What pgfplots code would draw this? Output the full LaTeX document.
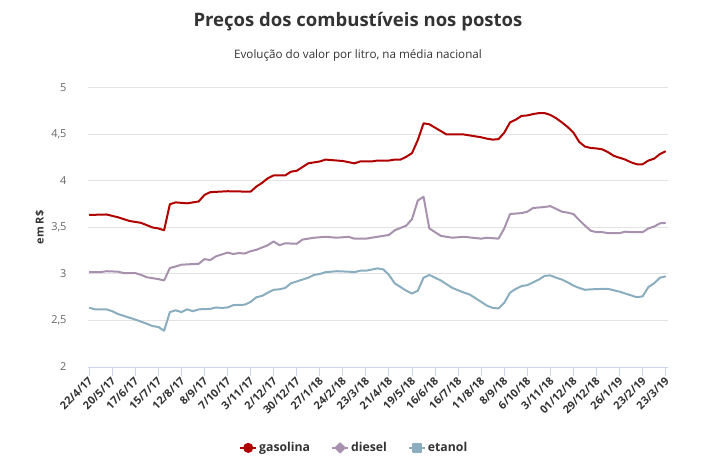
\documentclass[border=0pt]{standalone}
\usepackage{fontspec}
\setmainfont{Open Sans}
\usepackage{pgfplots}
\pgfplotsset{compat=1.18}
\definecolor{gas}{HTML}{B00000}
\definecolor{dsl}{HTML}{A891AF}
\definecolor{eta}{HTML}{8AADBF}
\definecolor{c333}{HTML}{333333}
\definecolor{c666}{HTML}{666666}
\definecolor{gridc}{HTML}{E3E3E3}
\definecolor{axc}{HTML}{CCD6EB}
\begin{document}
\begin{tikzpicture}
\useasboundingbox (0,0) rectangle (720bp,468bp);
\node[font=\bfseries\fontsize{18.6}{20}\selectfont, text=c333] at (358bp,446bp) {Preços dos combustíveis nos postos};
\node[font=\fontsize{11.7}{13}\selectfont, text=c333] at (358bp,413bp) {Evolução do valor por litro, na média nacional};
\begin{axis}[
  at={(88bp,101bp)}, anchor=south west,
  scale only axis, width=580bp, height=279bp,
  xmin=-0.2, xmax=100.4, ymin=2, ymax=5,
  axis x line*=bottom, axis y line*=left,
  x axis line style={draw=axc, line width=1bp, -},
  y axis line style={draw=none},
  ymajorgrids, grid style={draw=gridc, line width=1bp},
  ytick={2,2.5,...,5},
  xtick={0,4,...,100},
  xticklabels={22/4/17,20/5/17,17/6/17,15/7/17,12/8/17,8/9/17,7/10/17,3/11/17,2/12/17,30/12/17,27/1/18,24/2/18,23/3/18,21/4/18,19/5/18,16/6/18,16/7/18,11/8/18,8/9/18,6/10/18,3/11/18,01/12/18,29/12/18,26/1/19,23/2/19,23/3/19},
  tick align=outside,
  major tick length=9bp,
  xtick style={draw=axc, line width=1bp},
  ytick style={draw=none},
  /pgf/number format/assume math mode=true,
  /pgf/number format/use comma,
  yticklabel style={font=\fontsize{11}{13}\selectfont, text=c666, anchor=east, xshift=-9bp},
  xticklabel style={font=\bfseries\fontsize{11}{13}\selectfont, text=c333, rotate=45, anchor=east, inner sep=1bp, yshift=-3bp},
  ylabel={em R\$},
  every axis y label/.style={at={(axis description cs:-0.083,0.5)}, rotate=90, anchor=center, font=\bfseries\fontsize{11}{13}\selectfont, text=c333},
  legend style={at={(axis description cs:0.459,-0.29)}, anchor=center, draw=none, fill=none, legend columns=3,
    font=\bfseries\fontsize{12.3}{14}\selectfont, text=c333,
    /tikz/every even column/.append style={column sep=19bp}},
  legend cell align=left,
]
\addplot[gas, line width=2bp, line join=round, no marks,
  legend image code/.code={\draw[gas, line width=2bp] (0bp,0bp) -- (16bp,0bp); \fill[gas] (8bp,0bp) circle (4bp);}]
coordinates {
(0,3.635)(3,3.64)(5,3.61)(7,3.57)(9,3.55)(11,3.50)(12,3.49)(13,3.47)(14,3.75)(15,3.77)
(17,3.76)(19,3.78)(20,3.85)(21,3.88)(24,3.89)(28,3.885)(29,3.94)(30,3.98)(31,4.03)(32,4.06)
(34,4.06)(35,4.10)(36,4.11)(38,4.19)(39,4.20)(40,4.21)(41,4.23)(44,4.215)(46,4.19)(47,4.21)
(49,4.21)(50,4.22)(52,4.22)(53,4.23)(54,4.23)(55,4.26)(56,4.30)(57,4.44)(58,4.62)(59,4.61)
(62,4.50)(65,4.50)(67,4.48)(68,4.47)(69,4.455)(70,4.445)(71,4.45)(72,4.52)(73,4.63)(74,4.66)
(75,4.70)(76,4.705)(77,4.72)(78,4.73)(79,4.73)(80,4.71)(81,4.675)(82,4.63)(83,4.58)(84,4.52)
(85,4.42)(86,4.37)(87,4.355)(88,4.35)(89,4.34)(90,4.31)(91,4.27)(92,4.25)(93,4.23)(94,4.20)
(95,4.18)(96,4.18)(97,4.22)(98,4.24)(99,4.29)(100,4.32)
};
\addlegendentry{gasolina}
\addplot[dsl, line width=2bp, line join=round, no marks,
  legend image code/.code={\draw[dsl, line width=2bp] (0bp,0bp) -- (16bp,0bp); \fill[dsl] (8bp,4.5bp) -- (12.5bp,0bp) -- (8bp,-4.5bp) -- (3.5bp,0bp) -- cycle;}]
coordinates {
(0,3.02)(2,3.02)(3,3.03)(5,3.025)(6,3.01)(8,3.01)(9,2.99)(10,2.965)(12,2.945)(13,2.93)
(14,3.065)(15,3.08)(16,3.10)(19,3.11)(20,3.16)(21,3.15)(22,3.19)(24,3.23)(25,3.215)(26,3.225)
(27,3.22)(28,3.245)(29,3.26)(31,3.31)(32,3.35)(33,3.31)(34,3.33)(36,3.325)(37,3.37)(39,3.39)
(41,3.40)(43,3.39)(45,3.40)(46,3.38)(48,3.38)(50,3.40)(52,3.42)(53,3.47)(55,3.52)(56,3.59)
(57,3.79)(58,3.83)(59,3.49)(61,3.41)(63,3.39)(65,3.40)(68,3.38)(69,3.39)(71,3.38)(72,3.49)
(73,3.645)(74,3.65)(75,3.655)(76,3.67)(77,3.71)(79,3.72)(80,3.73)(81,3.70)(82,3.67)(83,3.66)
(84,3.645)(85,3.58)(86,3.52)(87,3.465)(88,3.45)(89,3.45)(90,3.44)(92,3.44)(93,3.455)(94,3.45)
(96,3.45)(97,3.49)(98,3.51)(99,3.545)(100,3.55)
};
\addlegendentry{diesel}
\addplot[eta, line width=2bp, line join=round, no marks,
  legend image code/.code={\draw[eta, line width=2bp] (0bp,0bp) -- (16bp,0bp); \fill[eta] (4bp,-4bp) rectangle (12bp,4bp);}]
coordinates {
(0,2.638)(1,2.62)(3,2.62)(4,2.60)(5,2.57)(6,2.55)(8,2.51)(10,2.465)(11,2.44)(12,2.43)
(13,2.39)(14,2.59)(15,2.61)(16,2.59)(17,2.62)(18,2.60)(19,2.62)(21,2.625)(22,2.64)(23,2.635)
(24,2.64)(25,2.665)(27,2.67)(28,2.70)(29,2.75)(30,2.765)(31,2.80)(32,2.83)(33,2.835)(34,2.85)
(35,2.90)(36,2.92)(37,2.94)(38,2.96)(39,2.99)(40,3.00)(41,3.02)(43,3.03)(45,3.025)(46,3.02)
(47,3.035)(48,3.035)(50,3.06)(51,3.05)(52,2.99)(53,2.90)(54,2.86)(55,2.82)(56,2.79)(57,2.82)
(58,2.96)(59,2.99)(61,2.93)(63,2.85)(65,2.80)(66,2.78)(68,2.70)(69,2.66)(70,2.635)(71,2.63)
(72,2.69)(73,2.80)(74,2.84)(75,2.87)(76,2.88)(77,2.91)(78,2.94)(79,2.98)(80,2.985)(81,2.96)
(82,2.94)(83,2.91)(84,2.875)(85,2.85)(86,2.83)(87,2.835)(89,2.84)(90,2.84)(91,2.825)(92,2.81)
(93,2.79)(94,2.77)(95,2.75)(96,2.76)(97,2.86)(98,2.90)(99,2.96)(100,2.975)
};
\addlegendentry{etanol}
\end{axis}
\end{tikzpicture}
\end{document}
